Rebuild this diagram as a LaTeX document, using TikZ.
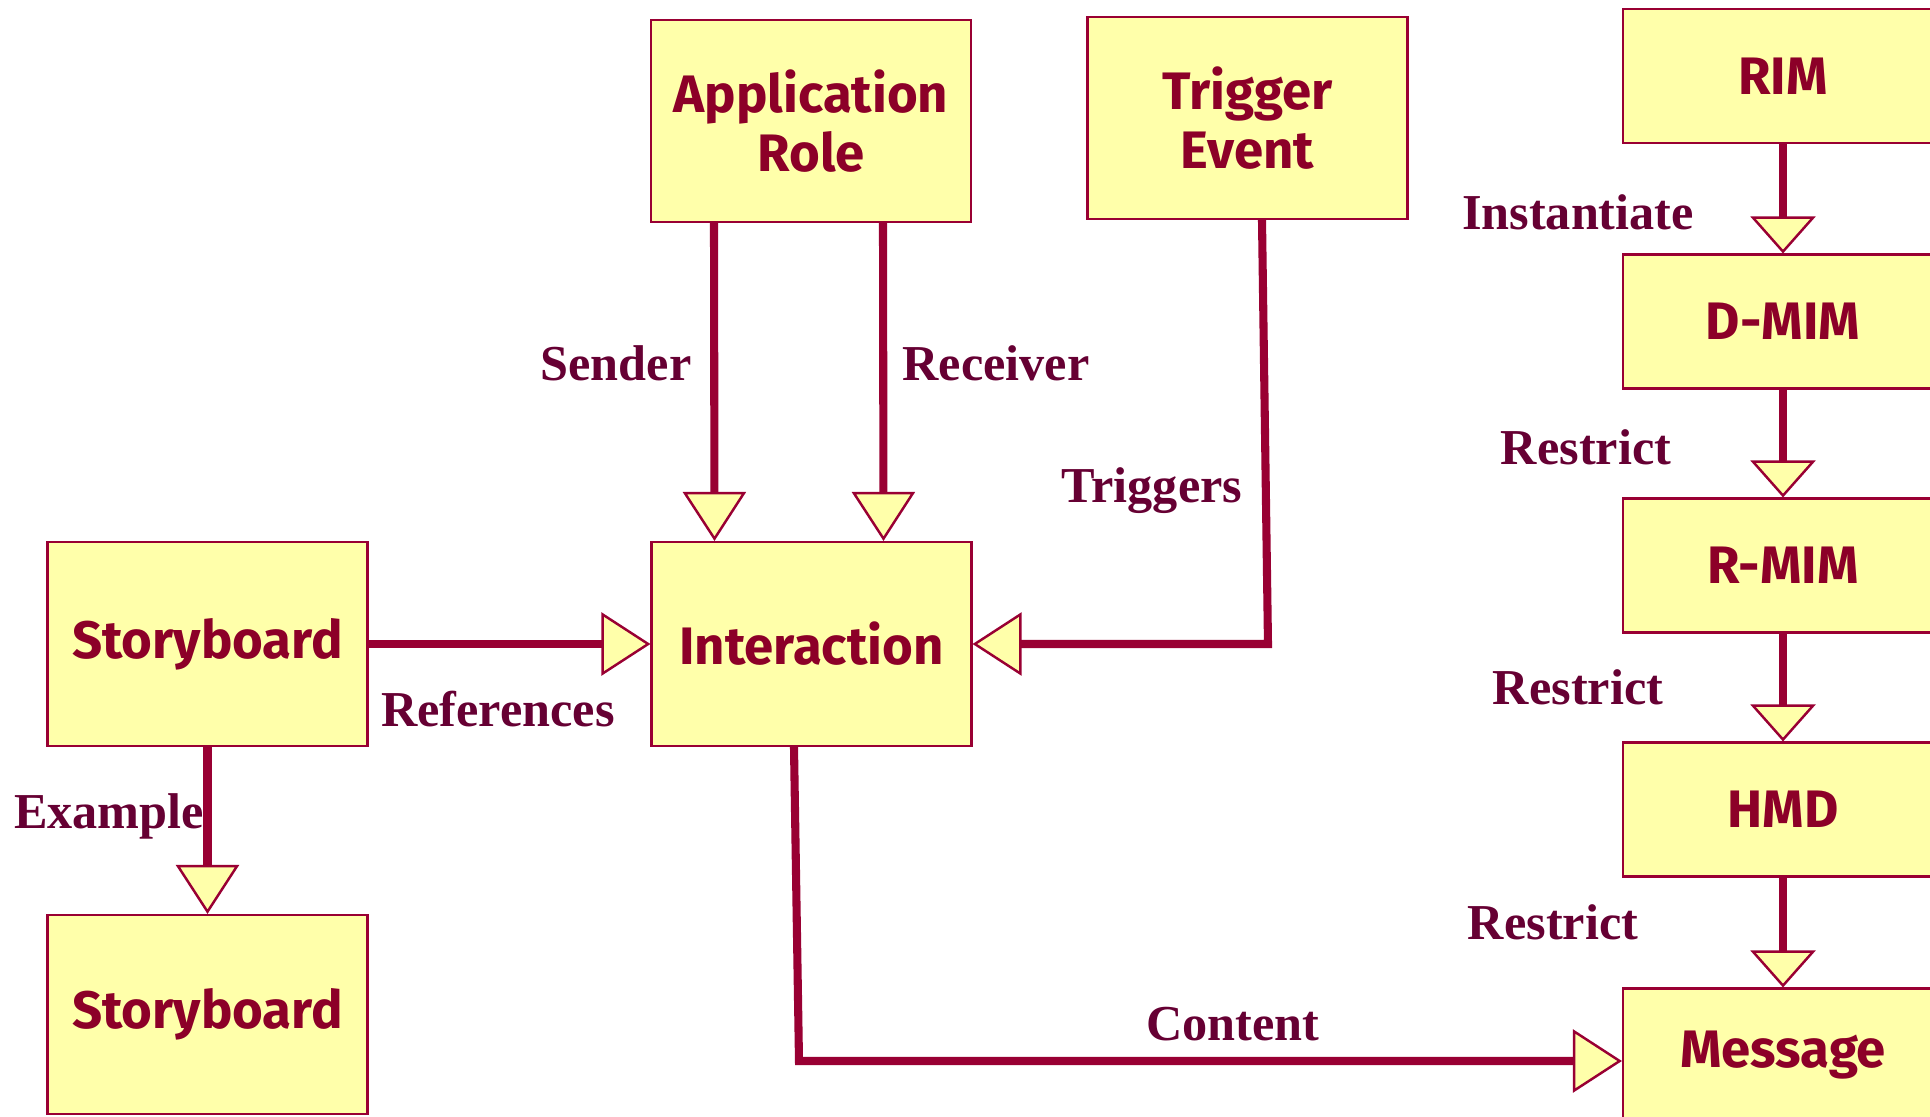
\documentclass[tikz,border=0pt]{standalone}
\usepackage{fontspec}
\setmainfont{Liberation Serif}
\newfontfamily\boxfont{Fira Sans}
\usepackage{tikz}
\usetikzlibrary{arrows.meta}
\usetikzlibrary{calc}
\definecolor{boxfill}{RGB}{255,255,170}
\definecolor{wine}{RGB}{153,0,51}
\definecolor{labelwine}{RGB}{102,0,51}
\definecolor{textwine}{RGB}{140,0,40}
\pgfdeclarelayer{nodelayer}
\pgfdeclarelayer{edgelayer}
\pgfsetlayers{edgelayer,nodelayer,main}
\tikzset{block/.style={draw=wine, line width=0.6pt, fill=boxfill, minimum width=3.2cm, minimum height=2.02cm,
inner sep=0pt, align=center, text=textwine, font={\boxfont\bfseries\fontsize{15}{17}\selectfont}}}
\tikzset{slim/.style={block, minimum height=1.34cm}}
\tikzset{lbl/.style={inner sep=0pt, text=labelwine, font={\bfseries\fontsize{14.3}{16}\selectfont}}}
\tikzset{link/.style={wine, line width=2.3pt, line cap=round,
-{Triangle[length=4.9mm, width=6.3mm, fill=boxfill, line width'=0.7pt]}}}
\tikzset{flatlink/.style={wine, line width=2.3pt, line cap=round,
-{Triangle[length=3.7mm, width=6.5mm, fill=boxfill, line width'=0.7pt]}}}

\begin{document}
\begin{tikzpicture}
        \useasboundingbox (0, 0) rectangle (19.3, 11.16);
        \begin{pgfonlayer}{nodelayer}
            \node [style=block] (0) at (8.11, 9.95) {Application\\Role};
            \node [style=block] (1) at (12.475, 9.98) {Trigger\\Event};
            \node [style=slim] (2) at (17.83, 10.4) {RIM};
            \node [style=slim] (3) at (17.83, 7.945) {D-MIM};
            \node [style=slim] (4) at (17.83, 5.505) {R-MIM};
            \node [style=slim] (5) at (17.83, 3.065) {HMD};
            \node [style=slim] (6) at (17.83, 0.605) {\raisebox{-0.9mm}{Message}};
            \node [style=block, minimum height=2.04cm] (7) at (2.075, 4.72) {\raisebox{-0.5mm}{Storyboard}};
            \node [style=block, minimum height=2.04cm] (8) at (8.115, 4.72) {Interaction};
            \node [style=block, minimum height=1.99cm] (9) at (2.075, 1.015) {\raisebox{-0.5mm}{Storyboard}};
            \node [style=lbl] (10) at (6.16, 7.53) {Sender};
            \node [style=lbl] (11) at (9.96, 7.53) {Receiver};
            \node [style=lbl] (12) at (11.52, 6.25) {Triggers};
            \node [style=lbl] (13) at (4.98, 4.07) {References};
            \node [style=lbl] (14) at (1.09, 3.00) {Example};
            \node [style=lbl] (15) at (15.78, 9.04) {Instantiate};
            \node [style=lbl] (16) at (15.86, 6.69) {Restrict};
            \node [style=lbl] (17) at (15.78, 4.29) {Restrict};
            \node [style=lbl] (18) at (15.53, 1.94) {Restrict};
            \node [style=lbl] (19) at (12.33, 0.92) {Content};
            \coordinate (20) at (12.68, 4.72);
            \coordinate (21) at (7.99, 0.55);
        \end{pgfonlayer}
        \begin{pgfonlayer}{edgelayer}
            \draw [style=link] ([xshift=-0.97cm]0.south) to ([xshift=-0.97cm]8.north);
            \draw [style=link] ([xshift=0.72cm]0.south) to ([xshift=0.72cm]8.north);
            \draw [style=link] ([xshift=0.145cm]1.south) -- (20) -- (8.east);
            \draw [style=link] (7) to (8);
            \draw [style=link] (7) to (9);
            \draw [style=link] ([xshift=-0.175cm]8.south) -- (21) -- (21 -| 6.west);
            \draw [style=flatlink] (2) to (3);
            \draw [style=flatlink] (3) to (4);
            \draw [style=flatlink] (4) to (5);
            \draw [style=flatlink] (5) to (6);
        \end{pgfonlayer}
    \end{tikzpicture}
\end{document}
